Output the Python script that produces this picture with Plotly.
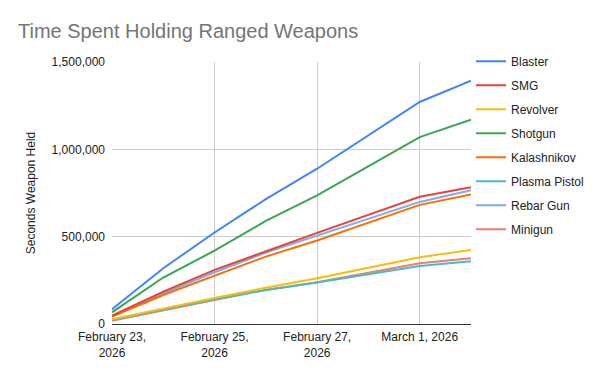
import plotly.graph_objects as go

dates = ["2026-02-23", "2026-02-24", "2026-02-25", "2026-02-26", "2026-02-27", "2026-03-01", "2026-03-02"]

blaster = [84000, 319000, 524000, 715000, 889000, 1271000, 1393000]
smg = [48000, 185000, 310000, 418000, 522000, 728000, 783000]
revolver = [27000, 90000, 149000, 208000, 262000, 382000, 424000]
shotgun = [67000, 266000, 420000, 590000, 736000, 1070000, 1169000]
kalashnikov = [42000, 166000, 277000, 386000, 478000, 682000, 741000]
plasma_pistol = [23000, 84000, 141000, 195000, 237000, 332000, 359000]
rebar_gun = [46000, 176000, 296000, 409000, 506000, 699000, 766000]
minigun = [19000, 80000, 138000, 195000, 239000, 348000, 376000]

series_names = ["Blaster", "SMG", "Revolver", "Shotgun", "Kalashnikov", "Plasma Pistol", "Rebar Gun", "Minigun"]
series_values = [blaster, smg, revolver, shotgun, kalashnikov, plasma_pistol, rebar_gun, minigun]
colors = ["#4285F4", "#EA4335", "#FBBC04", "#34A853", "#FF6D01", "#46BDC6", "#7BAAF7", "#F07B72"]

x_tickvals = ["2026-02-23", "2026-02-25", "2026-02-27", "2026-03-01"]
x_ticktext = ["February 23,<br>2026", "February 25,<br>2026", "February 27,<br>2026", "March 1, 2026"]
y_tickvals = [0, 500000, 1000000, 1500000]
y_ticktext = ["0", "500,000", "1,000,000", "1,500,000"]

fig = go.Figure()
# draw in reverse so Blaster is on top
for name, vals, col in reversed(list(zip(series_names, series_values, colors))):
    fig.add_trace(go.Scatter(x=dates, y=vals, name=name, mode="lines", legendgroup=name,
                             line=dict(color=col, width=2), legendrank=series_names.index(name) + 1))

fig.update_layout(
    width=604, height=377,
    margin=dict(l=112, r=133, t=62, b=53, autoexpand=False),
    paper_bgcolor="white", plot_bgcolor="white",
    font=dict(family="Liberation Sans, Arial, sans-serif", size=12, color="#222222"),
    title=dict(text="Time Spent Holding Ranged Weapons", x=18/604, xanchor="left",
               y=1 - 31/377, yanchor="middle",
               font=dict(size=20, color="#757575", family="Liberation Sans, Arial, sans-serif")),
    showlegend=True,
    legend=dict(x=1.0, xanchor="left", y=1.058, yanchor="top", traceorder="grouped",
                font=dict(size=12, color="#222222"), itemwidth=30, tracegroupgap=5,
                maxheight=320, bgcolor="rgba(0,0,0,0)"),
    xaxis=dict(type="date", range=["2026-02-23", "2026-03-02"], tickvals=x_tickvals, ticktext=x_ticktext,
               showgrid=True, gridcolor="#CCCCCC", gridwidth=1, showline=True, linecolor="#333333",
               linewidth=1, zeroline=False, ticks="", ticklabelstandoff=2,
               tickfont=dict(size=12, color="#222222")),
    yaxis=dict(range=[0, 1500000], tickvals=y_tickvals, ticktext=y_ticktext,
               showgrid=True, gridcolor="#CCCCCC", gridwidth=1, zeroline=False, showline=False,
               ticks="", ticklabelstandoff=6, tickfont=dict(size=12, color="#222222"),
               title=dict(text="Seconds Weapon Held", font=dict(size=12, color="#222222"), standoff=13)),
)

fig.write_html("out.html", config={"displayModeBar": False},
               post_script="document.body.style.margin='0';")
